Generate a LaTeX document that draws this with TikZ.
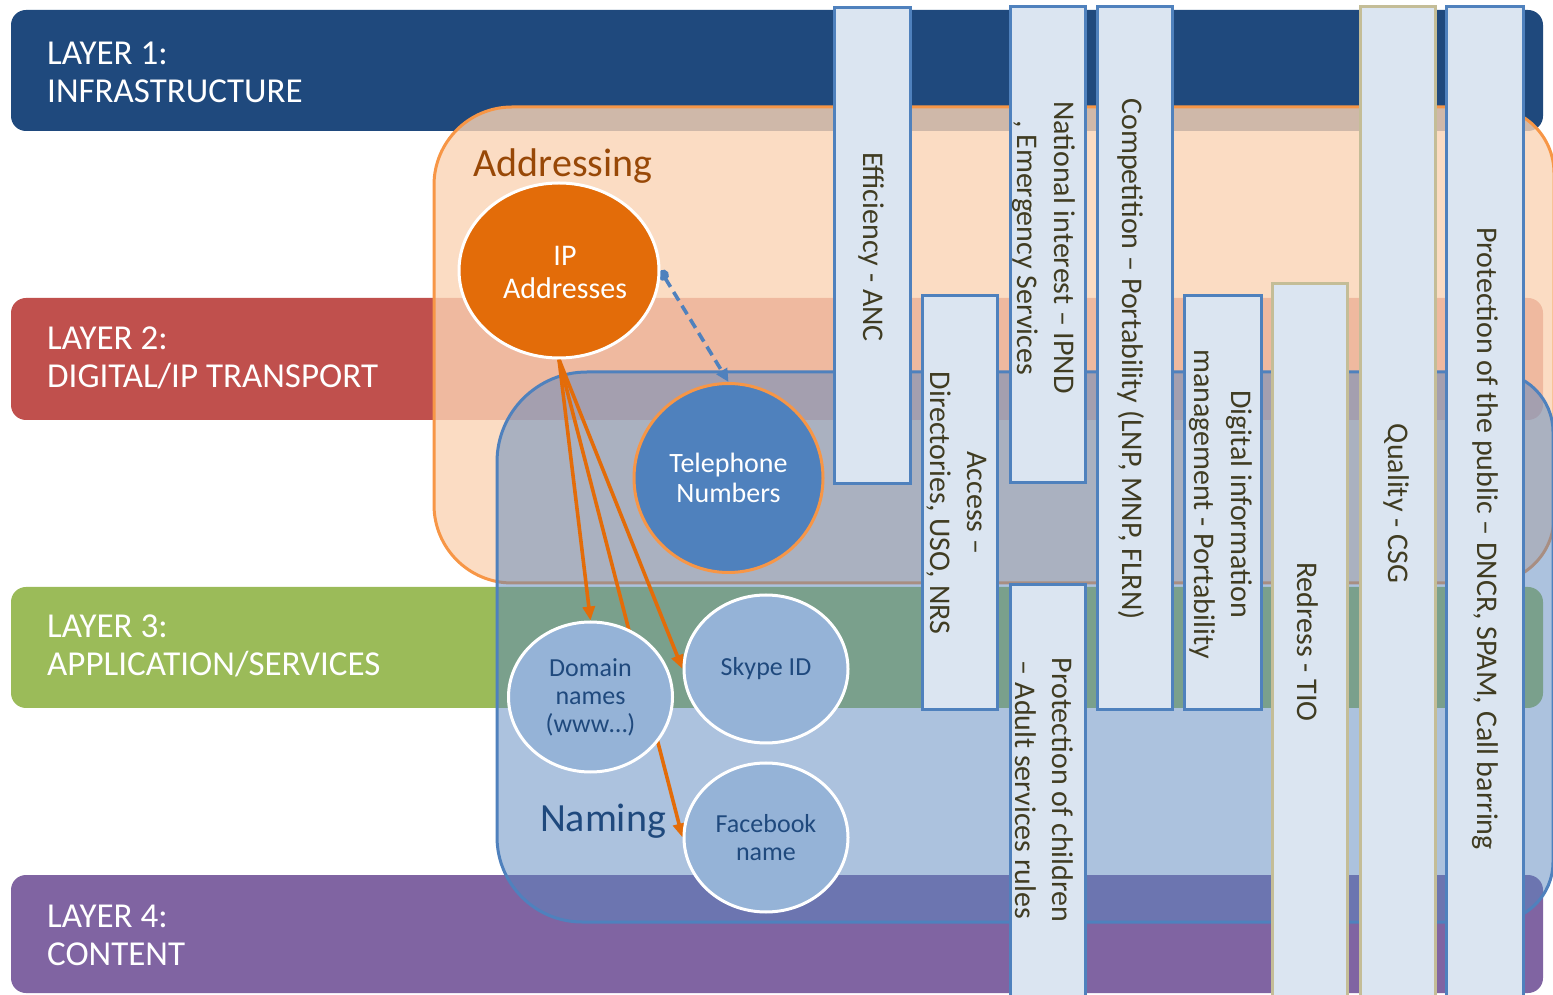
\documentclass[tikz,border=0pt]{standalone}
\usepackage{fontspec}
\setmainfont{Carlito}
\usetikzlibrary{arrows.meta,shapes.geometric}
\definecolor{lone}{HTML}{1F497D}
\definecolor{ltwo}{HTML}{C0504D}
\definecolor{lthree}{HTML}{9BBB59}
\definecolor{lfour}{HTML}{8064A2}
\definecolor{peach}{HTML}{FBD4B4}
\definecolor{orng}{HTML}{F79646}
\definecolor{dorng}{HTML}{E36C09}
\definecolor{brn}{HTML}{984807}
\definecolor{nblue}{HTML}{5A87BF}
\definecolor{accblue}{HTML}{4F81BD}
\definecolor{lblue}{HTML}{95B3D7}
\definecolor{barfill}{HTML}{DBE5F1}
\definecolor{tanline}{HTML}{C4BD97}
\definecolor{bartext}{HTML}{403C22}
\definecolor{navytext}{HTML}{1F497D}
\pgfdeclarelayer{bgl}
\pgfdeclarelayer{arl}
\pgfsetlayers{bgl,arl,main}
\tikzset{
  layerbox/.style={rounded corners=15pt},
  layerlabel/.style={anchor=west, align=left, text=white, inner sep=0pt,
    font=\fontsize{35pt}{38pt}\selectfont},
  barbox/.style={fill=barfill, draw=accblue, line width=3pt},
  tanbar/.style={fill=barfill, draw=tanline, line width=3pt},
  bartxt/.style={rotate=-90, align=center, text=bartext, inner sep=0pt,
    font=\fontsize{30pt}{37pt}\selectfont},
  smallell/.style={ellipse, fill=lblue, draw=white, line width=3pt, inner sep=0pt,
    align=center, text=navytext, font=\fontsize{26pt}{28pt}\selectfont,
    minimum width=164pt},
  oarrow/.style={draw=dorng, line width=3.6pt, -{Triangle[length=14pt,width=12pt]}},
  barrow/.style={draw=accblue, line width=3.6pt, dash pattern=on 10pt off 6pt,
    {Circle[length=11pt]}-{Triangle[length=13pt,width=12pt]}},
  regiontitle/.style={anchor=base, inner sep=0pt, font=\fontsize{40pt}{44pt}\selectfont}
}
\begin{document}
\begin{tikzpicture}[x=1pt,y=1pt]
\useasboundingbox (0,0) rectangle (1553,994);
\begin{pgfonlayer}{bgl}
  \fill[white] (0,0) rectangle (1553,994);
  % layers
  \fill[layerbox, lone]   (11,863) rectangle (1543,984);
  \fill[layerbox, ltwo]   (11,574) rectangle (1543,696);
  \fill[layerbox, lthree] (11,286) rectangle (1543,407);
  \fill[layerbox, lfour]  (11,1)   rectangle (1543,119);
  % addressing region
  \path[fill=peach, fill opacity=0.8, draw=orng, line width=3pt]
    (512,887) -- (1488,887) arc[start angle=90, end angle=0, radius=66pt]
    -- (1554,477) arc[start angle=0, end angle=-90, radius=66pt]
    -- (512,411) arc[start angle=270, end angle=180, radius=78pt]
    -- (434,809) arc[start angle=180, end angle=90, radius=78pt] -- cycle;
  % naming region
  \path[fill=nblue, fill opacity=0.5, draw=accblue, line width=3pt]
    (587,622) -- (1493,622) arc[start angle=90, end angle=0, radius=60pt]
    -- (1553,132) arc[start angle=0, end angle=-90, radius=60pt]
    -- (582,72) arc[start angle=270, end angle=180, radius=85pt]
    -- (497,532) arc[start angle=180, end angle=90, radius=90pt] -- cycle;
\end{pgfonlayer}

% layer labels
\node[layerlabel] (l1t) at (47,922) {LAYER 1:\\INFRASTRUCTURE};
\node[layerlabel] (l2t) at (47,636) {LAYER 2:\\DIGITAL/IP TRANSPORT};
\node[layerlabel] (l3t) at (47,348) {LAYER 3:\\APPLICATION/SERVICES};
\node[layerlabel] (l4t) at (47,59)  {LAYER 4:\\CONTENT};

% region titles
\node[regiontitle, text=brn] (addr) at (563,817) {Addressing};
\node[regiontitle, text=navytext] (nam) at (603,163) {Naming};

% identifier nodes
\node[ellipse, fill=dorng, draw=white, line width=3pt, inner sep=0pt,
      minimum width=200pt, minimum height=175pt] (ip) at (559,723.5) {};
\node[align=center, text=white, inner sep=0pt,
      font=\fontsize{30pt}{33pt}\selectfont] (iptext) at (565,722) {IP\\Addresses};
\node[circle, fill=accblue, draw=orng, line width=3pt, inner sep=0pt,
      minimum size=189pt, align=center, text=white,
      font=\fontsize{28pt}{30pt}\selectfont] (tel) at (728.5,516) {Telephone\\Numbers};
\node[smallell, minimum height=150pt] (dom) at (590.5,297) {Domain\\names\\(www…)};
\node[smallell, minimum height=148pt] (sky) at (766,325) {Skype ID};
\node[smallell, minimum height=149pt] (fb) at (766,156.5) {Facebook\\name};

% connectors
\begin{pgfonlayer}{arl}
  \draw[oarrow] (ip.south) -- (dom.north);
  \draw[oarrow] (ip.south) -- (sky.west);
  \draw[oarrow] (ip.south) -- (fb.west);
  \draw[barrow] (ip.east) -- (tel.north);
\end{pgfonlayer}

% vertical bars
\draw[barbox] (834.5,510) rectangle (910.5,986);
\draw[barbox] (922.5,284) rectangle (997.5,698);
\draw[barbox] (1010.5,511) rectangle (1085,987);
\draw[barbox] (1010.5,-10) rectangle (1085,409);
\draw[barbox] (1097.5,284) rectangle (1172.5,987);
\draw[barbox] (1184.5,284) rectangle (1261,698);
\draw[tanbar] (1272.5,-10) rectangle (1347,710);
\draw[tanbar] (1360.5,-10) rectangle (1435.5,987);
\draw[barbox] (1446.5,-10) rectangle (1523,987);

\node[bartxt] (t1) at (871,747) {Efficiency - ANC};
\node[bartxt] (t2) at (957,491) {Access –\\Directories, USO, NRS};
\node[bartxt] (t3) at (1044,746.5) {National interest – IPND\\, Emergency Services};
\node[bartxt] (t4) at (1044,204) {Protection of children\\– Adult services rules};
\node[bartxt] (t5) at (1131,635) {Competition – Portability (LNP, MNP, FLRN)};
\node[bartxt] (t6) at (1221,490) {Digital information\\management - Portability};
\node[bartxt] (t7) at (1308,352) {Redress - TIO};
\node[bartxt] (t8) at (1396,490.5) {Quality - CSG};
\node[bartxt] (t9) at (1485,455.5) {Protection of the public – DNCR, SPAM, Call barring};
\end{tikzpicture}
\end{document}
